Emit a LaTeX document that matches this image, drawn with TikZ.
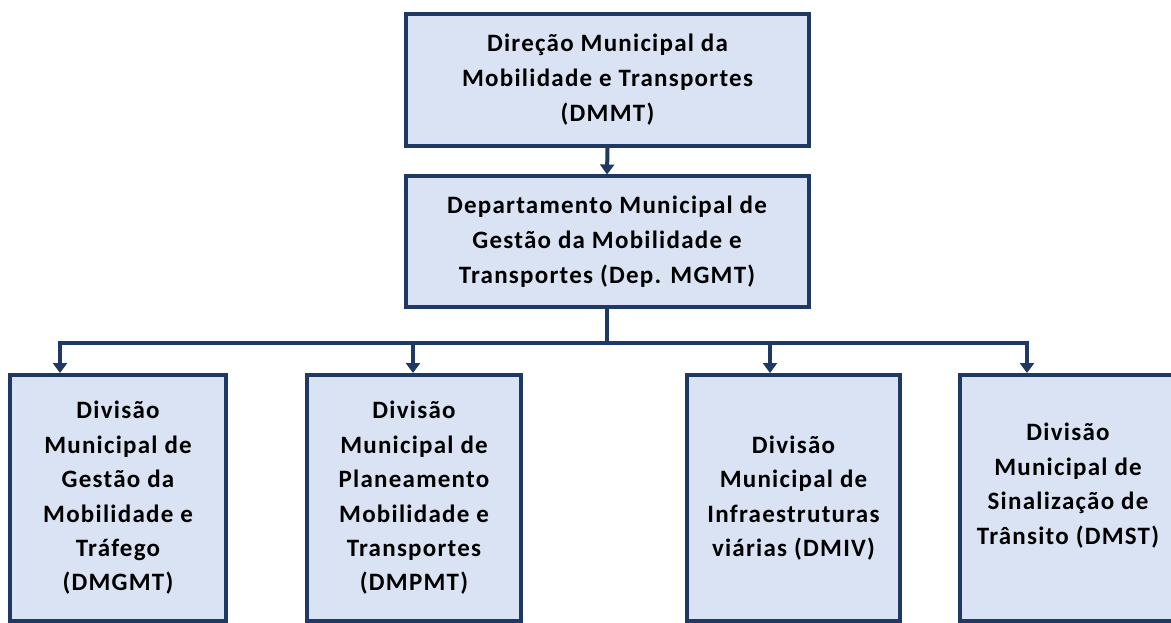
\documentclass[tikz,border=0pt]{standalone}
\usepackage{fontspec}
\setmainfont{Carlito}[LetterSpace=5]
\usetikzlibrary{arrows.meta}
\definecolor{navy}{RGB}{32,56,100}
\definecolor{boxfill}{RGB}{218,227,243}
\begin{document}
\begin{tikzpicture}[x=1pt,y=-1pt,
  box/.style={draw=navy, fill=boxfill, line width=4pt, align=center,
    font=\fontsize{25}{35}\selectfont\bfseries, inner sep=0pt},
  conn/.style={draw=navy, line width=4pt},
  arr/.style={conn, -{Triangle[width=14pt,length=10pt]}}]
\useasboundingbox (0,0) rectangle (1171,623);
\node[box, minimum width=403, minimum height=132] (t) at (607.5,80)
  {Direção Municipal da\\Mobilidade e Transportes\\(DMMT)};
\node[box, minimum width=403, minimum height=130] (s) at (607,241.5)
  {Departamento Municipal de\\Gestão da Mobilidade e\\Transportes (Dep. MGMT)};
\tikzset{small/.style={box, minimum width=216, minimum height=246,
  font=\fontsize{25}{34.4}\selectfont\bfseries}}
\node[small] (b1) at (118,498)
  {Divisão\\Municipal de\\Gestão da\\Mobilidade e\\Tráfego\\(DMGMT)};
\node[small, minimum width=214] (b2) at (414,498)
  {Divisão\\Municipal de\\Planeamento\\Mobilidade e\\Transportes\\(DMPMT)};
\node[small, minimum width=213] (b3) at (793.5,498)
  {Divisão\\Municipal de\\Infraestruturas\\viárias (DMIV)};
\node[small] (b4) at (1068,498)
  {Divisão\\Municipal de\\Sinalização de\\Trânsito (DMST)\\[-6pt]~};
\coordinate (hub) at (607,343);
\coordinate (j1) at (60,343);
\coordinate (j2) at (413,343);
\coordinate (j3) at (770,343);
\coordinate (j4) at (1027,343);
\draw[arr] (t.south) -- (s.north);
\draw[conn] (s.south) -- (hub);
\draw[arr] (hub) -- (j1) -- (j1 |- b1.north);
\draw[arr] (hub) -- (j4) -- (j4 |- b4.north);
\draw[arr] (j2) -- (j2 |- b2.north);
\draw[arr] (j3) -- (j3 |- b3.north);
\end{tikzpicture}
\end{document}
